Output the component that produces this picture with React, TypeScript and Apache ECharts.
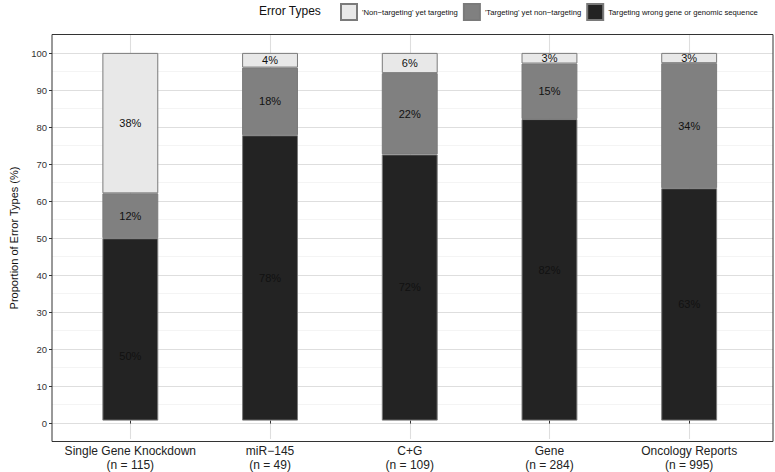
import React, { useEffect, useRef } from "react";
import * as echarts from "echarts";

const categories = ["Single Gene Knockdown", "miR−145", "C+G", "Gene", "Oncology Reports"];
const sampleSizes = [115, 49, 109, 284, 995];
const seriesNames = [
  "'Non−targeting' yet targeting",
  "'Targeting' yet non−targeting",
  "Targeting wrong gene or genomic sequence",
];
const wrongGene = [49.6, 77.6, 72.4, 82.0, 63.2];
const targetingYetNon = [12.2, 18.4, 22.1, 15.1, 34.0];
const nonTargetingYet = [38.2, 4.0, 5.5, 2.9, 2.8];
const yTicks = [0, 10, 20, 30, 40, 50, 60, 70, 80, 90, 100];
const yGrid = [0, 5, 10, 15, 20, 25, 30, 35, 40, 45, 50, 55, 60, 65, 70, 75, 80, 85, 90, 95, 100];

const colors = ["#e8e8e8", "#808080", "#232323"];
const FONT = "Liberation Sans, Arial, sans-serif";

const W = 775;
const H = 472;
const PANEL_L = 46.5;
const PANEL_R = 2;
const PANEL_T = 34.5;
const PANEL_B = 30.5;

export default function App() {
  const ref = useRef<HTMLDivElement>(null);
  useEffect(() => {
    if (!ref.current) return;
    document.body.style.margin = "0";
    const chart = echarts.init(ref.current, null, { renderer: "svg" });
    const panelW = W - PANEL_L - PANEL_R;
    const unit = panelW / (categories.length + 0.2);
    const barGridLeft = PANEL_L + 0.1 * unit;
    const barGridRight = W - barGridLeft - unit * categories.length;

    const mk = (name: string, vals: number[], color: string, extraLabel?: (i: number) => any) => ({
      name,
      type: "bar",
      stack: "total",
      xAxisIndex: 1,
      yAxisIndex: 1,
      barWidth: unit * 0.4,
      z: 3,
      itemStyle: { color, borderColor: "#7a7a7a", borderWidth: 1 },
      label: {
        show: true,
        position: "inside",
        fontSize: 11,
        fontFamily: FONT,
        color: "#111",
        formatter: (p: any) => Math.round(p.value) + "%",
      },
      data: vals.map((v, i) => {
        const item: any = { value: v };
        if (extraLabel) {
          const l = extraLabel(i);
          if (l) item.label = l;
        }
        return item;
      }),
    });

    chart.setOption({
      animation: false,
      textStyle: { fontFamily: FONT },
      grid: [
        {
          left: PANEL_L,
          right: PANEL_R,
          top: PANEL_T,
          bottom: PANEL_B,
          show: true,
          borderColor: "#333",
          borderWidth: 1,
          backgroundColor: "transparent",
          z: 4,
        },
        {
          left: barGridLeft,
          right: barGridRight,
          top: PANEL_T,
          bottom: PANEL_B,
        },
      ],
      graphic: [
        {
          type: "text",
          x: 259,
          y: 11,
          style: {
            text: "Error Types",
            fontSize: 12,
            fontFamily: FONT,
            fill: "#111",
            align: "left",
            verticalAlign: "middle",
          },
        },
      ],
      legend: {
        left: 340,
        top: 3,
        right: 0,
        padding: 0,
        itemWidth: 16,
        itemHeight: 16,
        itemGap: 5,
        icon: "rect",
        data: seriesNames,
        textStyle: { fontSize: 7.7, fontFamily: FONT, color: "#111" },
      },
      xAxis: [
        { type: "value", gridIndex: 0, min: 0, max: 1, show: false },
        {
          type: "category",
          gridIndex: 1,
          data: categories,
          axisLine: { show: false },
          splitLine: { show: false },
          axisTick: { show: true, length: 3, alignWithLabel: true, lineStyle: { color: "#333" } },
          axisLabel: {
            interval: 0,
            fontSize: 12,
            lineHeight: 14,
            margin: 5,
            color: "#222",
            fontFamily: FONT,
            formatter: (v: string) => v + "\n(n = " + sampleSizes[categories.indexOf(v)] + ")",
          },
        },
      ],
      yAxis: [
        {
          type: "value",
          gridIndex: 0,
          min: -5,
          max: 105,
          name: "Proportion of Error Types (%)",
          nameLocation: "middle",
          nameGap: 33,
          nameTextStyle: { fontSize: 11, fontFamily: FONT, color: "#111" },
          axisLine: { show: false },
          splitLine: { show: false },
          axisTick: { show: true, length: 3, lineStyle: { color: "#333" }, customValues: yTicks },
          axisLabel: { customValues: yTicks, fontSize: 9.5, color: "#333", margin: 5, fontFamily: FONT },
        },
        { type: "value", gridIndex: 1, min: -5, max: 105, show: false },
      ],
      series: [
        {
          name: "hgrid",
          type: "line",
          xAxisIndex: 0,
          yAxisIndex: 0,
          data: [],
          z: 0,
          silent: true,
          markLine: {
            z: 0,
            silent: true,
            symbol: "none",
            label: { show: false },
            emphasis: { disabled: true },
            data: yGrid.map((v) => ({
              yAxis: v,
              lineStyle: {
                color: v % 10 === 0 ? "#dedede" : "#efefef",
                width: v % 10 === 0 ? 1.1 : 0.7,
                type: "solid",
              },
            })),
          },
        },
        {
          name: "vgrid",
          type: "line",
          xAxisIndex: 1,
          yAxisIndex: 1,
          data: [],
          z: 0,
          silent: true,
          markLine: {
            z: 0,
            silent: true,
            symbol: "none",
            label: { show: false },
            emphasis: { disabled: true },
            data: categories.map((c) => ({ xAxis: c, lineStyle: { color: "#dedede", width: 1.1, type: "solid" } })),
          },
        },
        mk(seriesNames[2], wrongGene, colors[2], (i) => (i === 0 ? { offset: [0, 27] } : null)),
        mk(seriesNames[1], targetingYetNon, colors[1]),
        mk(seriesNames[0], nonTargetingYet, colors[0]),
      ],
    });
    return () => chart.dispose();
  }, []);
  return <div ref={ref} style={{ width: W, height: H }} />;
}
